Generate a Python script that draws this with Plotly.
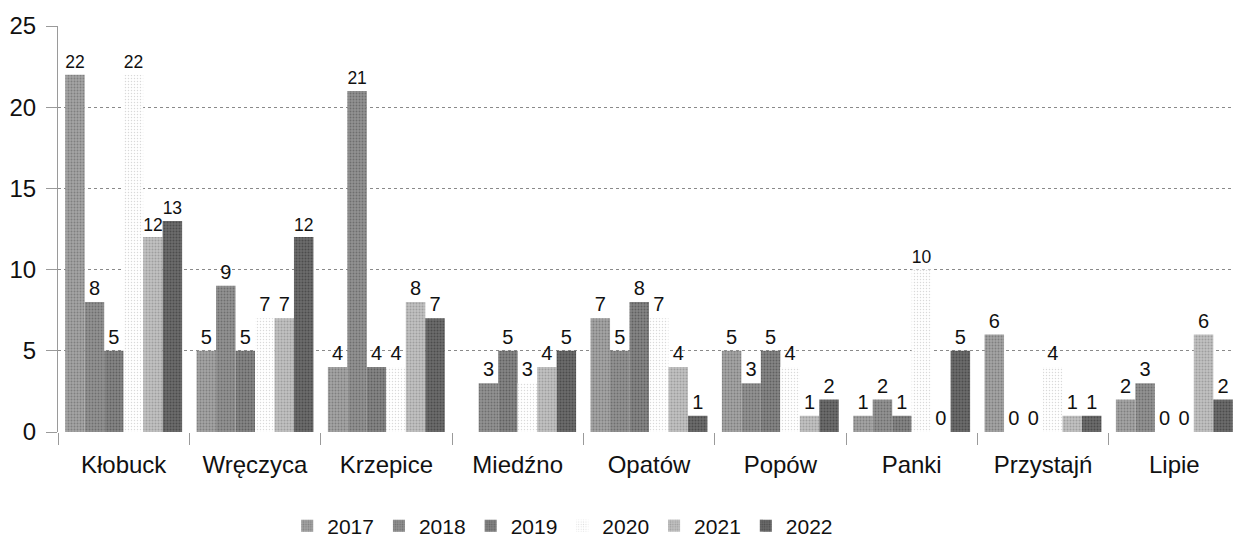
import plotly.graph_objects as go

categories = ["Kłobuck", "Wręczyca", "Krzepice", "Miedźno", "Opatów", "Popów", "Panki", "Przystajń", "Lipie"]
years = ["2017", "2018", "2019", "2020", "2021", "2022"]
v2017 = [22, 5, 4, None, 7, 5, 1, 6, 2]
v2018 = [8, 9, 21, 3, 5, 3, 2, 0, 3]
v2019 = [5, 5, 4, 5, 8, 5, 1, 0, 0]
v2020 = [22, 7, 4, 3, 7, 4, 10, 4, 0]
v2021 = [12, 7, 8, 4, 4, 1, 0, 1, 6]
v2022 = [13, 12, 7, 5, 1, 2, 5, 1, 2]
series = [v2017, v2018, v2019, v2020, v2021, v2022]
bg_colors = ["#a4a4a4", "#939393", "#858585", "#ffffff", "#c2c2c2", "#6c6c6c"]
fg_colors = ["#5a5a5a", "#4a4a4a", "#3c3c3c", "#b4b4b4", "#7a7a7a", "#2c2c2c"]
solid = [0.35, 0.35, 0.35, 0.18, 0.35, 0.35]

fig = go.Figure()
for name, vals, bg, fg, so in zip(years, series, bg_colors, fg_colors, solid):
    fig.add_trace(go.Bar(
        x=categories, y=vals, name=name,
        marker=dict(color=bg, line=dict(width=0),
                    pattern=dict(shape=".", fgcolor=fg, bgcolor=bg, size=3, solidity=so)),
        text=[("" if v is None else str(v)) for v in vals],
        textposition="outside",
        textfont=dict(size=20, color="#111111", family="Liberation Sans"),
        cliponaxis=False,
    ))

# the page body adds an 8px offset, so the figure is sized to fit the window
fig.update_layout(
    width=1234, height=532,
    barmode="group", bargap=0.11, bargroupgap=0,
    plot_bgcolor="white", paper_bgcolor="white",
    margin=dict(l=50, r=2, t=18, b=108, autoexpand=False),
    font=dict(family="Liberation Sans", color="#111111"),
    legend=dict(orientation="h", x=0.427, xanchor="center", y=-0.2315, yanchor="middle",
                font=dict(size=21), traceorder="normal", itemwidth=30),
)
fig.update_yaxes(range=[0, 25], dtick=5, showgrid=True, gridcolor="#8a8a8a", griddash="dot",
                 gridwidth=1, tickfont=dict(size=24), zeroline=False, automargin=False,
                 showline=True, linecolor="#9a9a9a", ticks="outside", ticklen=11,
                 tickcolor="#9a9a9a", ticklabelstandoff=5)
fig.update_xaxes(tickfont=dict(size=24), showline=False, ticks="outside", tickson="boundaries",
                 ticklen=12, tickcolor="#9a9a9a", ticklabelstandoff=16, automargin=False)

fig.write_html("out.html")
